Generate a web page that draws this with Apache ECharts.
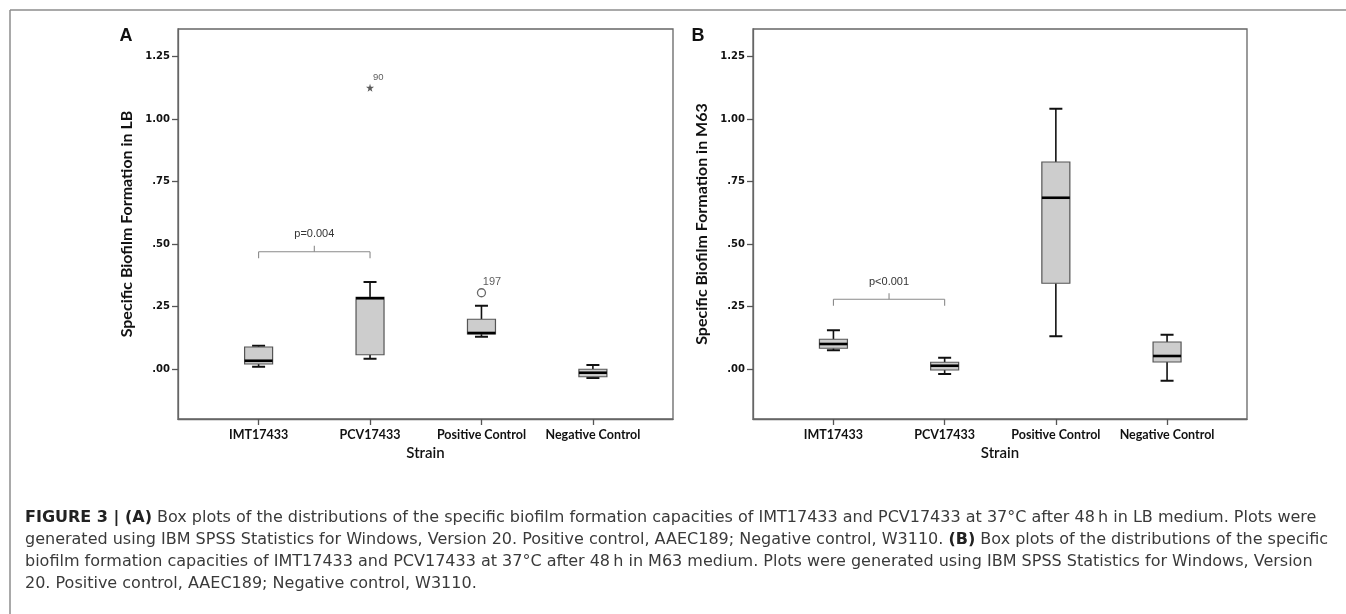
<!DOCTYPE html>
<html>
<head>
<meta charset="utf-8">
<script src="https://cdn.jsdelivr.net/npm/echarts@6/dist/echarts.min.js"></script>
<style>
html,body{margin:0;padding:0;background:#fff;}
#chart{width:1346px;height:614px;}
</style>
</head>
<body>
<div id="chart"></div>
<script>
// ---------- data ----------
const categories = ['IMT17433', 'PCV17433', 'Positive Control', 'Negative Control'];
const yTickValues = [0, 0.25, 0.5, 0.75, 1, 1.25];

// Panel A: LB medium
const lbMin    = [0.009, 0.041, 0.129, -0.036];
const lbQ1     = [0.020, 0.057, 0.140, -0.031];
const lbMedian = [0.033, 0.283, 0.144, -0.015];
const lbQ3     = [0.088, 0.287, 0.199, -0.001];
const lbMax    = [0.093, 0.348, 0.253, 0.016];
const lbStarOutliers   = [[2, 1.125, '90']];
const lbCircleOutliers = [[3, 0.305, '197']];
const lbBracket = [[1, 2, 0.469, 'p=0.004']];

// Panel B: M63 medium
const m63Min    = [0.075, -0.020, 0.131, -0.047];
const m63Q1     = [0.083, -0.004, 0.343, 0.028];
const m63Median = [0.100, 0.013, 0.685, 0.052];
const m63Q3     = [0.119, 0.027, 0.828, 0.108];
const m63Max    = [0.155, 0.045, 1.041, 0.137];
const m63Bracket = [[1, 2, 0.279, 'p<0.001']];

const captionLines = [
  '{b|FIGURE 3 | (A)} Box plots of the distributions of the specific biofilm formation capacities of IMT17433 and PCV17433 at 37\u00B0C after 48\u2009h in LB medium. Plots were',
  'generated using IBM SPSS Statistics for Windows, Version 20. Positive control, AAEC189; Negative control, W3110. {b|(B)} Box plots of the distributions of the specific',
  'biofilm formation capacities of IMT17433 and PCV17433 at 37\u00B0C after 48\u2009h in M63 medium. Plots were generated using IBM SPSS Statistics for Windows, Version',
  '20. Positive control, AAEC189; Negative control, W3110.'
];

// ---------- helpers ----------
function boxData(mn, q1, md, q3, mx) {
  return categories.map((c, i) => [i + 1, mn[i], q1[i], md[i], q3[i], mx[i]]);
}

function renderBox(params, api) {
  const x = api.value(0);
  const p = k => api.coord([x, api.value(k)]);
  const pMin = p(1), pQ1 = p(2), pMed = p(3), pQ3 = p(4), pMax = p(5);
  const cx = pMin[0];
  const bw = 28, cw = 13;
  const wStyle = { stroke: '#111', lineWidth: 1.6 };
  return {
    type: 'group',
    children: [
      { type: 'line', shape: { x1: cx, y1: pMax[1], x2: cx, y2: pQ3[1] }, style: wStyle },
      { type: 'line', shape: { x1: cx, y1: pQ1[1], x2: cx, y2: pMin[1] }, style: wStyle },
      { type: 'line', shape: { x1: cx - cw / 2, y1: pMax[1], x2: cx + cw / 2, y2: pMax[1] }, style: { stroke: '#111', lineWidth: 2 } },
      { type: 'line', shape: { x1: cx - cw / 2, y1: pMin[1], x2: cx + cw / 2, y2: pMin[1] }, style: { stroke: '#111', lineWidth: 2 } },
      { type: 'rect', shape: { x: cx - bw / 2, y: pQ3[1], width: bw, height: pQ1[1] - pQ3[1] },
        style: { fill: '#cdcdcd', stroke: '#555', lineWidth: 1.2 } },
      { type: 'line', shape: { x1: cx - bw / 2, y1: pMed[1], x2: cx + bw / 2, y2: pMed[1] }, style: { stroke: '#000', lineWidth: 2.6 } }
    ]
  };
}

const bracketLabels = {
  bracketA: lbBracket.map(d => d[3]),
  bracketB: m63Bracket.map(d => d[3])
};
function renderBracket(params, api) {
  const a = api.coord([api.value(0), api.value(2)]);
  const b = api.coord([api.value(1), api.value(2)]);
  const label = bracketLabels[params.seriesName][params.dataIndex];
  const mid = (a[0] + b[0]) / 2;
  const st = { stroke: '#8a8a8a', lineWidth: 1.1 };
  return {
    type: 'group',
    children: [
      { type: 'line', shape: { x1: a[0], y1: a[1], x2: b[0], y2: b[1] }, style: st },
      { type: 'line', shape: { x1: a[0], y1: a[1], x2: a[0], y2: a[1] + 6.5 }, style: st },
      { type: 'line', shape: { x1: b[0], y1: b[1], x2: b[0], y2: b[1] + 6.5 }, style: st },
      { type: 'line', shape: { x1: mid, y1: a[1], x2: mid, y2: a[1] - 6 }, style: st },
      { type: 'text', style: { x: mid, y: a[1] - 17.5, text: label, fill: '#333',
        font: '11px "Liberation Sans", Arial, sans-serif', align: 'center', verticalAlign: 'middle' } }
    ]
  };
}

function yFmt(v) {
  const s = Number(v).toFixed(2);
  return Math.abs(v) < 1 ? s.replace(/^0/, '') : s;
}

const xMin = 1 - 80.5 / 111.3;
const xMax = 4 + 80 / 111.3;

function makeX(gridIndex) {
  return {
    type: 'value', gridIndex: gridIndex, min: xMin, max: xMax,
    name: 'Strain', nameLocation: 'middle', nameGap: 25,
    nameTextStyle: { fontFamily: 'Lato, "Open Sans", sans-serif', fontSize: 15, fontWeight: 600, color: '#111' },
    axisLine: { show: true, onZero: false, lineStyle: { color: '#666', width: 1.3 } },
    axisTick: { show: true, length: 6, inside: false, customValues: [1, 2, 3, 4], lineStyle: { color: '#555', width: 1.3 } },
    axisLabel: { customValues: [1, 2, 3, 4], margin: 9, formatter: v => categories[Math.round(v) - 1] || '',
      fontFamily: 'Lato, "Open Sans", sans-serif', fontWeight: 'bold', fontSize: 12.5, color: '#111' },
    splitLine: { show: false }
  };
}
function makeY(gridIndex, title) {
  return {
    type: 'value', gridIndex: gridIndex, min: -0.2, max: 1.36,
    name: title, nameLocation: 'middle', nameGap: 43, nameRotate: 90,
    nameTextStyle: { fontFamily: 'Lato, "Open Sans", sans-serif', fontSize: 16, fontWeight: 'bold', color: '#111' },
    axisLine: { show: true, onZero: false, lineStyle: { color: '#666', width: 1.3 } },
    axisTick: { show: true, length: 6, inside: false, customValues: yTickValues, lineStyle: { color: '#555', width: 1.3 } },
    axisLabel: { customValues: yTickValues, margin: 8, formatter: yFmt,
      fontFamily: '"DejaVu Sans", sans-serif', fontWeight: 'bold', fontSize: 10, color: '#111' },
    splitLine: { show: false }
  };
}

const chart = echarts.init(document.getElementById('chart'), null, { renderer: 'canvas' });

const captionStyleRich = {
  b: { fontFamily: '"DejaVu Sans", sans-serif', fontSize: 16, fontWeight: 'bold', fill: '#222' }
};
const captionGraphics = captionLines.map((t, i) => ({
  type: 'text', left: 25, top: 510 + i * 22,
  style: { text: t, fill: '#3a3a3a', font: '16px "DejaVu Sans", sans-serif', rich: captionStyleRich }
}));

const option = {
  animation: false,
  backgroundColor: '#fff',
  grid: [
    { left: 178, right: 1346 - 673, top: 29, bottom: 614 - 419, show: true, borderColor: '#666', borderWidth: 1.3 },
    { left: 753, right: 1346 - 1247, top: 29, bottom: 614 - 419, show: true, borderColor: '#666', borderWidth: 1.3 }
  ],
  xAxis: [makeX(0), makeX(1)],
  yAxis: [makeY(0, 'Specific Biofilm Formation in LB'), makeY(1, 'Specific Biofilm Formation in M63')],
  series: [
    { type: 'custom', name: 'boxA', xAxisIndex: 0, yAxisIndex: 0, renderItem: renderBox,
      encode: { x: 0, y: [1, 2, 3, 4, 5] }, data: boxData(lbMin, lbQ1, lbMedian, lbQ3, lbMax), z: 3 },
    { type: 'custom', name: 'boxB', xAxisIndex: 1, yAxisIndex: 1, renderItem: renderBox,
      encode: { x: 0, y: [1, 2, 3, 4, 5] }, data: boxData(m63Min, m63Q1, m63Median, m63Q3, m63Max), z: 3 },
    { type: 'custom', name: 'bracketA', xAxisIndex: 0, yAxisIndex: 0, renderItem: renderBracket,
      encode: { x: [0, 1], y: 2 }, data: lbBracket.map(d => [d[0], d[1], d[2]]) },
    { type: 'custom', name: 'bracketB', xAxisIndex: 1, yAxisIndex: 1, renderItem: renderBracket,
      encode: { x: [0, 1], y: 2 }, data: m63Bracket.map(d => [d[0], d[1], d[2]]) },
    { type: 'scatter', name: 'starA', xAxisIndex: 0, yAxisIndex: 0,
      symbol: 'path://M50,0 L61,35 L98,35 L68,57 L79,91 L50,70 L21,91 L32,57 L2,35 L39,35 Z',
      symbolSize: 8, itemStyle: { color: '#333' },
      label: { show: true, position: [7, -11], formatter: p => p.data[2], fontSize: 9.5, color: '#333',
        fontFamily: '"Liberation Sans", Arial, sans-serif' },
      data: lbStarOutliers },
    { type: 'scatter', name: 'circleA', xAxisIndex: 0, yAxisIndex: 0,
      symbol: 'circle', symbolSize: 8,
      itemStyle: { color: '#fff', borderColor: '#444', borderWidth: 1.3 },
      label: { show: true, position: [6, -12], formatter: p => p.data[2], fontSize: 11, color: '#333',
        fontFamily: '"Liberation Sans", Arial, sans-serif' },
      data: lbCircleOutliers }
  ],
  graphic: [
    { type: 'line', shape: { x1: 10, y1: 10, x2: 1346, y2: 10 }, style: { stroke: '#8c8c8c', lineWidth: 1.5 } },
    { type: 'line', shape: { x1: 10, y1: 10, x2: 10, y2: 614 }, style: { stroke: '#8c8c8c', lineWidth: 1.5 } },
    { type: 'text', x: 126, y: 36, style: { text: 'A', font: 'bold 18px "Liberation Sans", Arial, sans-serif', fill: '#111', align: 'center', verticalAlign: 'middle' } },
    { type: 'text', x: 698, y: 36, style: { text: 'B', font: 'bold 18px "Liberation Sans", Arial, sans-serif', fill: '#111', align: 'center', verticalAlign: 'middle' } }
  ].concat(captionGraphics)
};
chart.setOption(option);
</script>
</body>
</html>
